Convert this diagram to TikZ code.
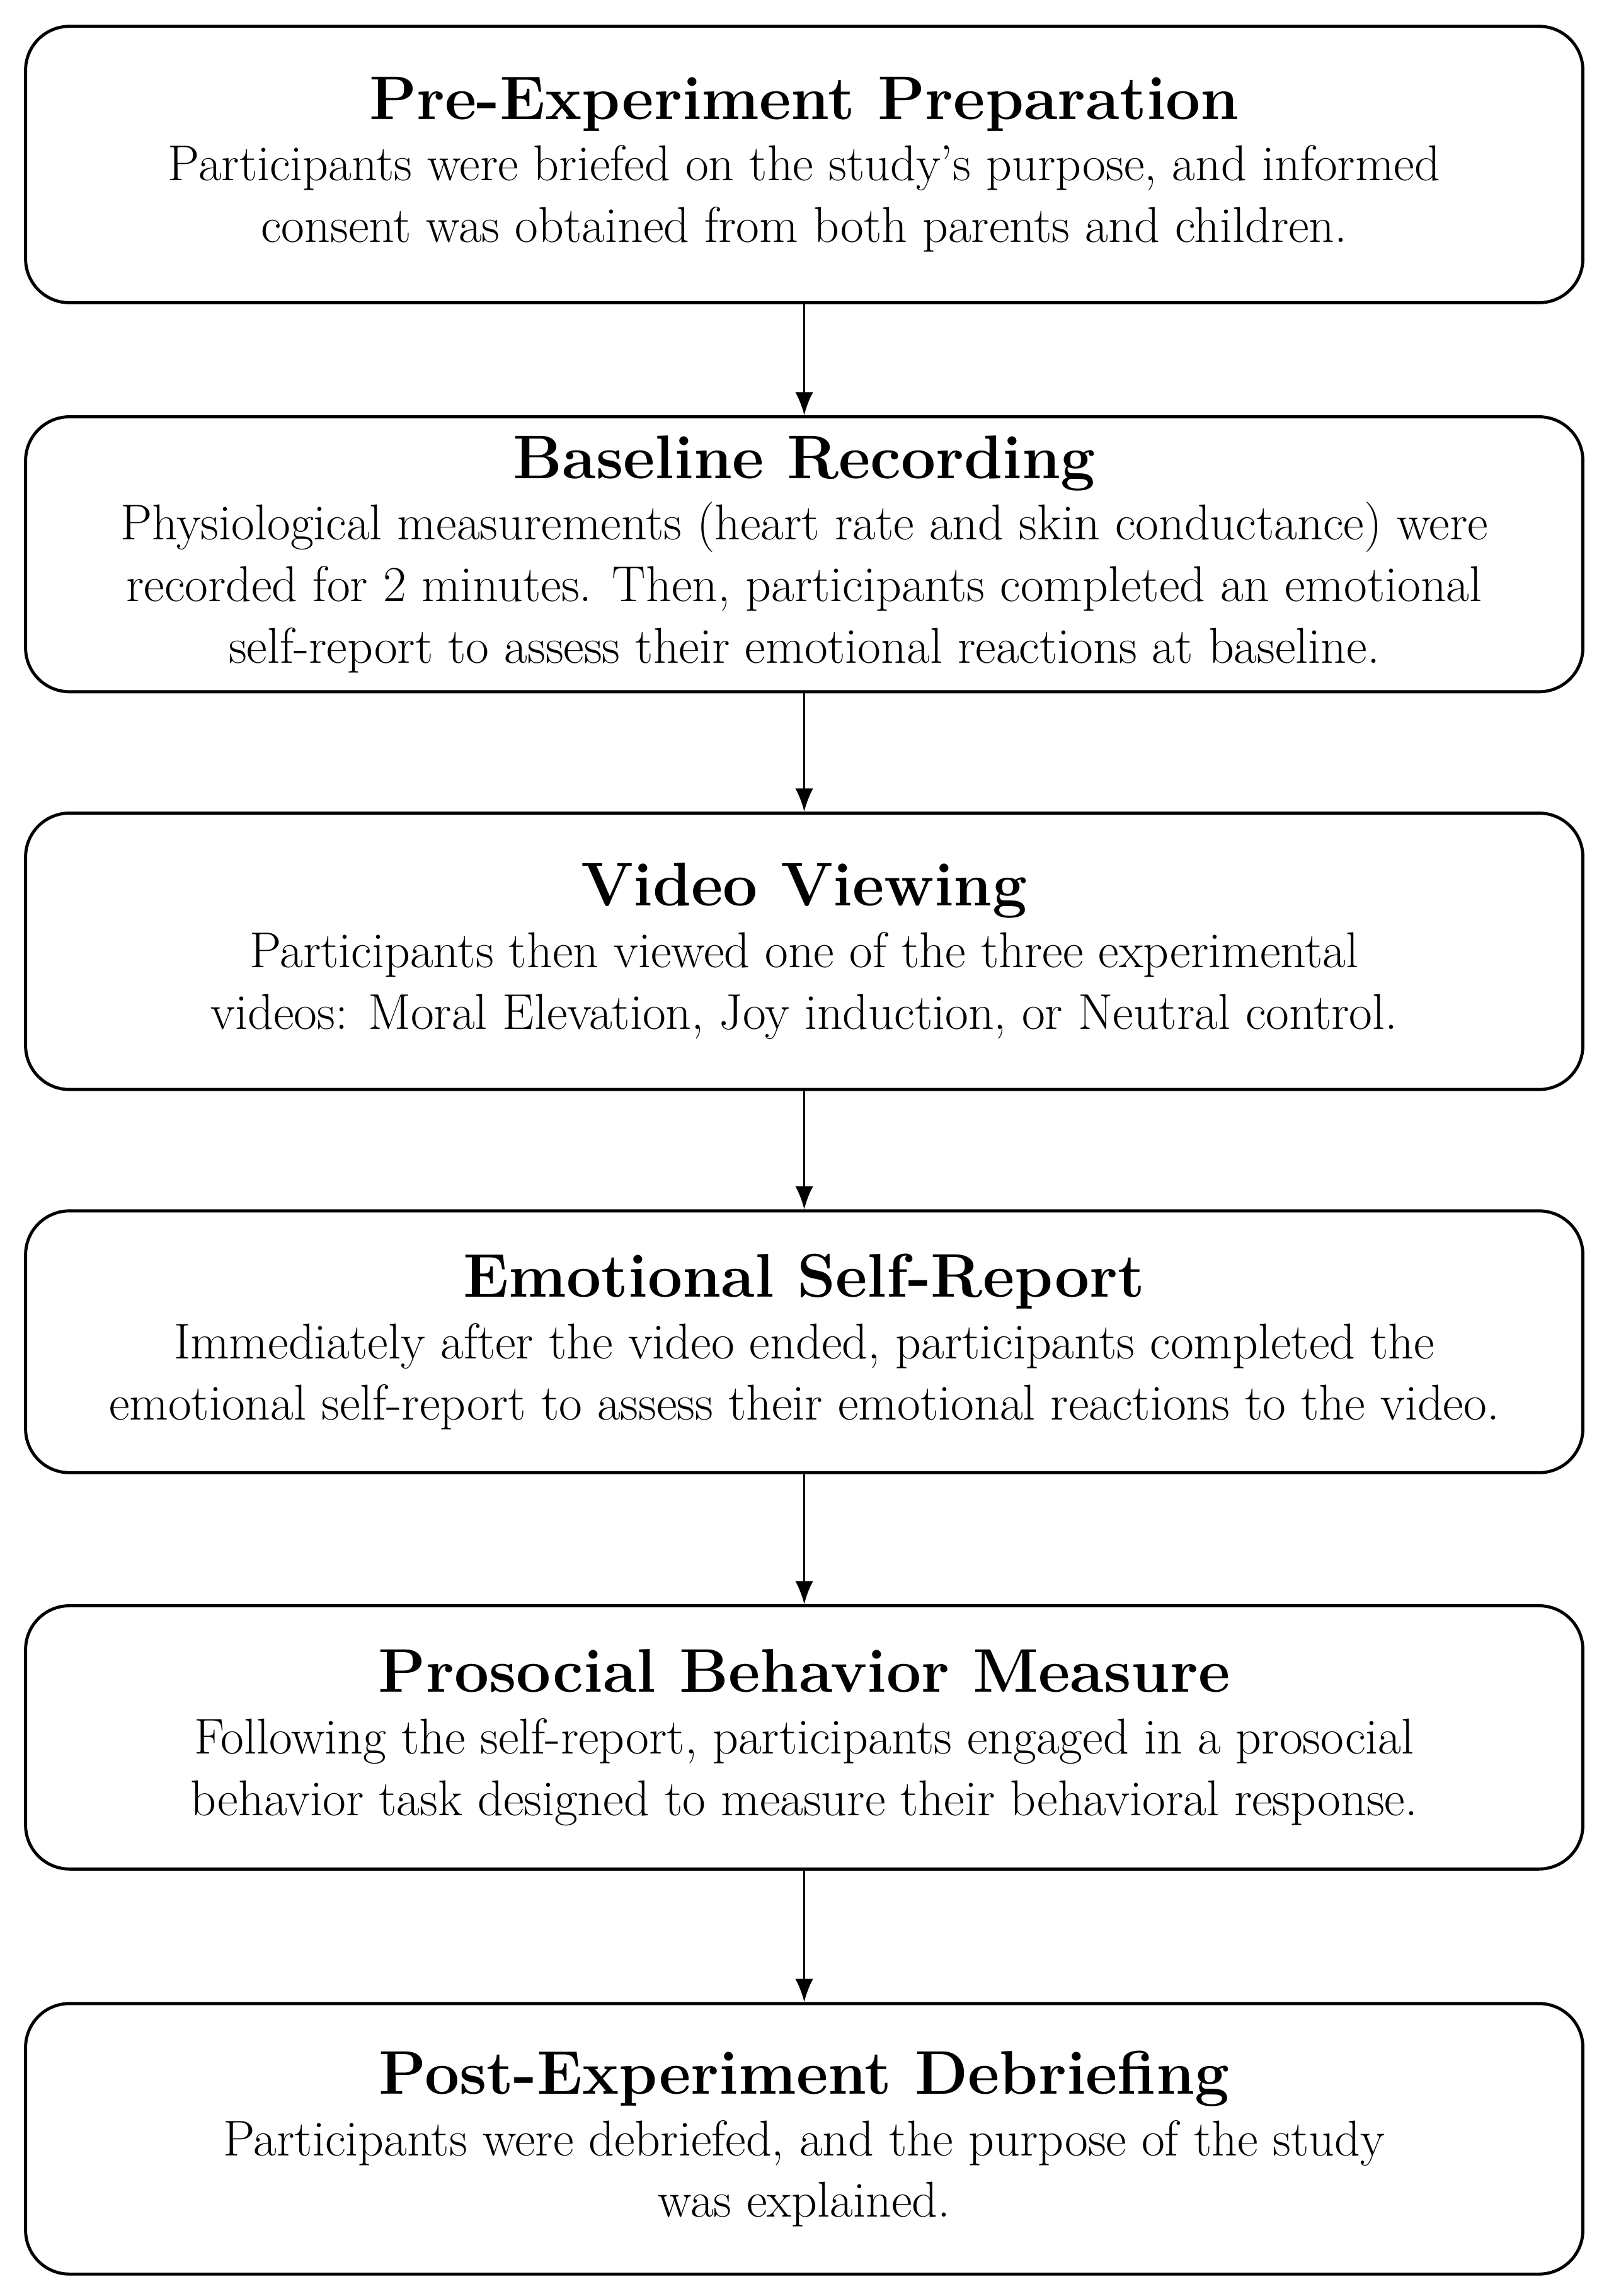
\documentclass[tikz,border=0pt]{standalone}
\usepackage{tikz}
\usetikzlibrary{arrows.meta}
\begin{document}
\begin{tikzpicture}[>={Latex[length=9pt,width=7pt]},
  stage/.style={draw,line width=1.2pt,rounded corners=0.6cm,minimum width=21.3cm,align=center,
    font=\fontsize{19.6}{24}\selectfont}]
  \useasboundingbox (0,0) rectangle (22,-31.4);
  \node[stage,minimum height=3.78cm] (pre) at (11,-2.25)
    {{\fontsize{24}{29}\selectfont\bfseries Pre-Experiment Preparation}\\
     Participants were briefed on the study's purpose, and informed\\
     consent was obtained from both parents and children.};
  \node[stage,minimum height=3.76cm] (base) at (11,-7.58)
    {{\fontsize{24}{29}\selectfont\bfseries Baseline Recording}\\
     Physiological measurements (heart rate and skin conductance) were\\
     recorded for 2 minutes. Then, participants completed an emotional\\
     self-report to assess their emotional reactions at baseline.};
  \node[stage,minimum height=3.78cm] (video) at (11,-13.01)
    {{\fontsize{24}{29}\selectfont\bfseries Video Viewing}\\
     Participants then viewed one of the three experimental\\
     videos: Moral Elevation, Joy induction, or Neutral control.};
  \node[stage,minimum height=3.58cm] (self) at (11,-18.35)
    {{\fontsize{24}{29}\selectfont\bfseries Emotional Self-Report}\\
     Immediately after the video ended, participants completed the\\
     emotional self-report to assess their emotional reactions to the video.};
  \node[stage,minimum height=3.6cm] (pro) at (11,-23.76)
    {{\fontsize{24}{29}\selectfont\bfseries Prosocial Behavior Measure}\\
     Following the self-report, participants engaged in a prosocial\\
     behavior task designed to measure their behavioral response.};
  \node[stage,minimum height=3.7cm] (post) at (11,-29.25)
    {{\fontsize{24}{29}\selectfont\bfseries Post-Experiment Debriefing}\\
     Participants were debriefed, and the purpose of the study\\
     was explained.};
  \foreach \a/\b in {pre/base,base/video,video/self,self/pro,pro/post}
    \draw[->,line width=0.8pt] (\a) -- (\b);
\end{tikzpicture}
\end{document}
